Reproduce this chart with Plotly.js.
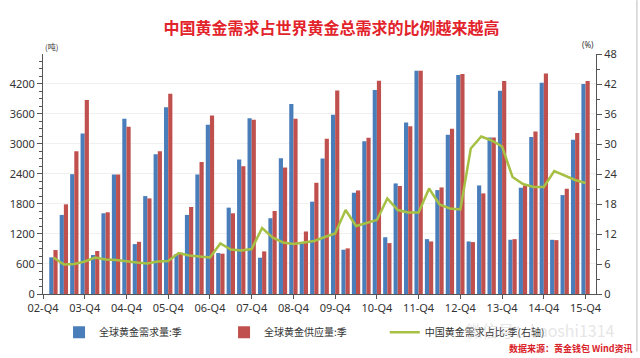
<!DOCTYPE html>
<html>
<head>
<meta charset="utf-8">
<script src="https://cdn.plot.ly/plotly-3.0.1.min.js"></script>
<style>html,body{margin:0;padding:0;background:#fff;}#chart{width:640px;height:358px;}</style>
</head>
<body>
<div id="chart"></div>
<script>
// Quarters 03-Q1 .. 15-Q4
var years = ["03","04","05","06","07","08","09","10","11","12","13","14","15"];
var quarters = [];
years.forEach(function(y){ ["Q1","Q2","Q3","Q4"].forEach(function(q){ quarters.push(y + "-" + q); }); });

var tickLabels = ["02-Q4","03-Q4","04-Q4","05-Q4","06-Q4","07-Q4","08-Q4","09-Q4","10-Q4","11-Q4","12-Q4","13-Q4","14-Q4","15-Q4"];

// 全球黄金需求量:季 (吨)
var demand = [
  733, 1581, 2396, 3211,
  779, 1614, 2390, 3503,
  998, 1958, 2793, 3735,
  800, 1581, 2390, 3384,
  819, 1727, 2688, 3516,
  726, 1515, 2714, 3801,
  1011, 1846, 2707, 3582,
  885, 2025, 3052, 4079,
  1135, 2211, 3430, 4463,
  1097, 2078, 3185, 4377,
  1051, 2171, 3131, 4066,
  1084, 2125, 3138, 4225,
  1084, 1978, 3085, 4198
];
// 全球黄金供应量:季 (吨)
var supply = [
  879, 1793, 2853, 3880,
  860, 1634, 2390, 3344,
  1044, 1912, 2853, 4006,
  825, 1740, 2638, 3569,
  806, 1614, 2555, 3483,
  852, 1660, 2529, 3503,
  1250, 2224, 3105, 4070,
  912, 2071, 3125, 4265,
  1018, 2160, 3354, 4463,
  1051, 2131, 3304, 4397,
  1038, 2012, 3131, 4258,
  1097, 2171, 3251, 4411,
  1077, 2105, 3218, 4258
];
// 中国黄金需求占比:季 (%, 右轴)
var chinaShare = [
  7.3, 5.9, 6.0, 6.5,
  7.3, 6.9, 6.8, 6.5,
  6.3, 6.1, 6.5, 6.6,
  8.2, 7.7, 7.5, 7.3,
  10.1, 8.9, 8.7, 9.0,
  13.2, 11.3, 10.3, 10.0,
  10.3, 10.6, 11.4, 12.1,
  16.8, 13.6, 14.2, 14.8,
  19.1, 16.8, 16.3, 16.3,
  21.1, 17.9, 17.1, 16.9,
  29.1, 31.5, 30.7, 29.5,
  23.4, 22.0, 21.4, 21.4,
  24.6, 23.7, 22.8, 22.2
];

// numeric position of each quarter (02-Q4 = 0)
var xpos = quarters.map(function(_, i){ return i + 1; });
var tickPos = tickLabels.map(function(_, i){ return i * 4; });

var fontFam = "Noto Sans, Noto Sans CJK SC, sans-serif";
var cjk = "Noto Sans CJK SC, sans-serif";

var traces = [
  {type:"bar", name:"全球黄金需求量:季", x:xpos, y:demand, text:quarters, hoverinfo:"text+y", textposition:"none",
   marker:{color:"#4a7ebb", line:{width:0}}},
  {type:"bar", name:"全球黄金供应量:季", x:xpos, y:supply, text:quarters, hoverinfo:"text+y", textposition:"none",
   marker:{color:"#c0504d", line:{width:0}}},
  {type:"scatter", mode:"lines", name:"中国黄金需求占比:季(右轴)", x:xpos, y:chinaShare, yaxis:"y2", legend:"legend2",
   line:{color:"#a6c044", width:2.5}}
];

var layout = {
  width:640, height:358,
  margin:{l:43, r:44, t:54, b:63},
  paper_bgcolor:"#ffffff", plot_bgcolor:"#ffffff",
  font:{family:fontFam, size:11, color:"#333"},
  title:{text:"中国黄金需求占世界黄金总需求的比例越来越高", x:0.518, xanchor:"center", y:0.92, yanchor:"middle",
         font:{family:cjk, size:16, color:"#e3232b", weight:"bold"}},
  barmode:"group", bargap:0.2, bargroupgap:0,
  showlegend:true,
  legend:{orientation:"h", x:0.029, xanchor:"left", y:-0.155, yanchor:"middle",
          font:{family:cjk, size:10, color:"#333"}, entrywidth:120, traceorder:"normal"},
  legend2:{orientation:"h", x:0.618, xanchor:"left", y:-0.155, yanchor:"middle",
          font:{family:cjk, size:10, color:"#333"}},
  xaxis:{range:[0,53], tickmode:"array", tickvals:tickPos, ticktext:tickLabels,
         ticks:"outside", ticklen:4, tickcolor:"#555", showline:true, linecolor:"#555", linewidth:1,
         showgrid:false, zeroline:false, tickfont:{size:11, color:"#333"}},
  yaxis:{range:[0,4799], tickmode:"linear", tick0:0, dtick:600, ticks:"outside", ticklen:5, tickcolor:"#555",
         minor:{dtick:150, ticks:"outside", ticklen:3, tickcolor:"#555", showgrid:false},
         showline:true, linecolor:"#555", linewidth:1, showgrid:true, gridcolor:"#f0f0f0", zeroline:false,
         tickfont:{size:11, color:"#333"}},
  yaxis2:{range:[0,48], overlaying:"y", side:"right", tickmode:"linear", tick0:0, dtick:6,
          ticks:"outside", ticklen:5, tickcolor:"#555",
          minor:{dtick:3, ticks:"outside", ticklen:3, tickcolor:"#555", showgrid:false},
          showline:true, linecolor:"#555", linewidth:1, showgrid:false, zeroline:false,
          tickfont:{size:11, color:"#333"}},
  annotations:[
    {text:"(吨)", xref:"paper", yref:"paper", x:0, y:1, xanchor:"left", yanchor:"bottom", showarrow:false,
     font:{size:8, color:"#333", family:cjk}},
    {text:"(%)", xref:"paper", yref:"paper", x:1, y:1.01, xanchor:"right", yanchor:"bottom", showarrow:false,
     font:{size:8, color:"#333"}},
    {text:"微信号：kaoshi1314", xref:"paper", yref:"paper", x:0.9, y:-0.152, xanchor:"center", yanchor:"middle", showarrow:false,
     font:{size:16, color:"rgba(190,190,190,0.4)", family:cjk}},
    {text:"数据来源：黄金钱包 Wind资讯", xref:"paper", yref:"paper", x:1.07, y:-0.228, xanchor:"right", yanchor:"middle", showarrow:false,
     font:{size:9, color:"#d9232b", family:cjk, weight:"bold"}}
  ],
  shapes:[
    {type:"line", xref:"paper", yref:"paper", x0:1.074, x1:1.074, y0:-0.24, y1:1.224, line:{color:"#bbb", width:1}}
  ]
};

Plotly.newPlot("chart", traces, layout, {displayModeBar:false, staticPlot:true});
</script>
</body>
</html>
